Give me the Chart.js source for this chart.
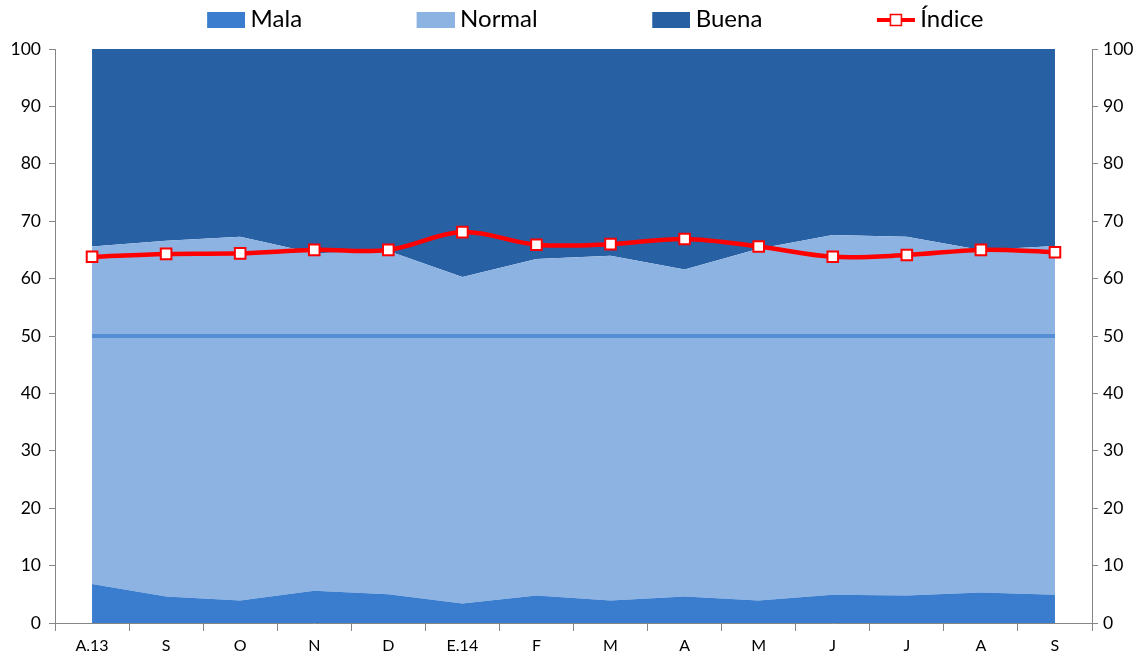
<!DOCTYPE html>
<html><head><meta charset="utf-8">
<script src="https://cdn.jsdelivr.net/npm/chart.js@4.4.1/dist/chart.umd.min.js"></script>
<style>html,body{margin:0;padding:0;background:#fff;overflow:hidden}#wrap{width:1147px;height:659px;position:relative}</style>
</head><body><div id="wrap"><canvas id="c" width="1147" height="659"></canvas></div>
<script>
const categories = ['A.13','S','O','N','D','E.14','F','M','A','M','J','J','A','S'];
const mala   = [6.8,4.6,3.9,5.6,5.0,3.4,4.8,3.9,4.6,3.9,4.9,4.8,5.3,4.9];
const normal = [58.8,62.0,63.4,58.8,59.8,56.9,58.6,60.1,57.0,61.3,62.7,62.5,59.7,60.8];
const buena  = [34.4,33.4,32.7,35.6,35.2,39.7,36.6,36.0,38.4,34.8,32.4,32.7,35.0,34.3];
const indice = [63.8,64.3,64.4,65.0,65.0,68.1,65.9,66.0,66.9,65.6,63.8,64.1,65.0,64.6];
const referencia = [50,50,50,50,50,50,50,50,50,50,50,50,50,50];
const yTicks = [0,10,20,30,40,50,60,70,80,90,100];
const seriesNames = ['Mala','Normal','Buena','Índice'];

const C = {mala:'#3A7DCE', normal:'#8DB3E2', buena:'#2860A4', indice:'#FF0000', ref:'#558ED5', axis:'#868686'};
const FONT = 'Lato';
Chart.defaults.font.family = FONT;
Chart.defaults.color = '#000';

function boxImg(color){
  const c = document.createElement('canvas'); c.width = 44; c.height = 18;
  const g = c.getContext('2d'); g.fillStyle = color; g.fillRect(6,2,38,16); return c;
}
function lineImg(){
  const c = document.createElement('canvas'); c.width = 44; c.height = 18;
  const g = c.getContext('2d');
  g.strokeStyle = C.indice; g.lineWidth = 4; g.beginPath(); g.moveTo(6,10); g.lineTo(44,10); g.stroke();
  g.fillStyle = '#fff'; g.fillRect(19.5,4.5,11,11);
  g.strokeStyle = C.indice; g.lineWidth = 1.5; g.strokeRect(19.5,4.5,11,11);
  return c;
}

const legendAdjust = {
  id:'legendAdjust',
  beforeInit(chart){
    const lg = chart.legend;
    const fit = lg.fit;
    lg.fit = function(){ fit.call(this); this.height = 49; };
  },
  beforeDraw(chart){
    const lg = chart.legend;
    const pad = lg.options.labels.padding;
    lg.top = 7 - pad;
    lg.left += 22; lg.right += 22;
  }
};

new Chart(document.getElementById('c'), {
  type:'line',
  data:{
    labels: categories,
    datasets:[
      {label:seriesNames[0], data:mala, yAxisID:'y', stack:'a', fill:'origin', backgroundColor:C.mala, borderWidth:0, pointRadius:0, order:3},
      {label:seriesNames[1], data:normal, yAxisID:'y', stack:'a', fill:'-1', backgroundColor:C.normal, borderWidth:0, pointRadius:0, order:3},
      {label:seriesNames[2], data:buena, yAxisID:'y', stack:'a', fill:'-1', backgroundColor:C.buena, borderWidth:0, pointRadius:0, order:3},
      {label:'ref', data:referencia, yAxisID:'y2', borderColor:C.ref, borderWidth:4, pointRadius:0, fill:false, order:2},
      {label:seriesNames[3], data:indice, yAxisID:'y2', borderColor:C.indice, borderWidth:4.5, tension:0.35,
       pointStyle:'rect', pointRadius:7.5, pointBackgroundColor:'#fff', pointBorderColor:C.indice, pointBorderWidth:2, fill:false, order:1}
    ]
  },
  options:{
    responsive:false, animation:false,
    layout:{padding:0},
    plugins:{
      tooltip:{enabled:false},
      title:{display:false},
      legend:{
        display:true, position:'top',
        labels:{
          usePointStyle:true, pointStyleWidth:31, boxHeight:18, padding:115,
          font:{family:FONT, size:24}, color:'#000',
          generateLabels: () => [
            {text:seriesNames[0], pointStyle:boxImg(C.mala), fillStyle:C.mala, strokeStyle:'transparent', lineWidth:0, datasetIndex:0, fontColor:'#000'},
            {text:seriesNames[1], pointStyle:boxImg(C.normal), fillStyle:C.normal, strokeStyle:'transparent', lineWidth:0, datasetIndex:1, fontColor:'#000'},
            {text:seriesNames[2], pointStyle:boxImg(C.buena), fillStyle:C.buena, strokeStyle:'transparent', lineWidth:0, datasetIndex:2, fontColor:'#000'},
            {text:seriesNames[3], pointStyle:lineImg(), fillStyle:'#fff', strokeStyle:'transparent', lineWidth:0, datasetIndex:4, fontColor:'#000'}
          ]
        }
      }
    },
    scales:{
      x:{
        type:'category', offset:true,
        grid:{display:true, offset:true, drawOnChartArea:false, drawTicks:true, tickLength:8, color:C.axis},
        border:{display:true, color:C.axis, width:1},
        ticks:{font:{family:FONT, size:16}, color:'#000', padding:5, maxRotation:0, autoSkip:false},
        afterFit(s){ s.height = 36; }
      },
      y:{
        position:'left', stacked:true, min:0, max:100,
        afterBuildTicks(s){ s.ticks = yTicks.map(v => ({value:v})); },
        grid:{display:true, drawOnChartArea:false, drawTicks:true, tickLength:6, color:C.axis},
        border:{display:true, color:C.axis, width:1},
        ticks:{font:{family:FONT, size:17.5}, color:'#000', padding:8},
        afterFit(s){ s.width = 55; }
      },
      y2:{
        position:'right', stacked:false, min:0, max:100,
        afterBuildTicks(s){ s.ticks = yTicks.map(v => ({value:v})); },
        grid:{display:true, drawOnChartArea:false, drawTicks:true, tickLength:6, color:C.axis},
        border:{display:true, color:C.axis, width:1},
        ticks:{font:{family:FONT, size:17.5}, color:'#000', padding:5},
        afterFit(s){ s.width = 55; }
      }
    }
  },
  plugins:[legendAdjust]
});
</script>
</body></html>
